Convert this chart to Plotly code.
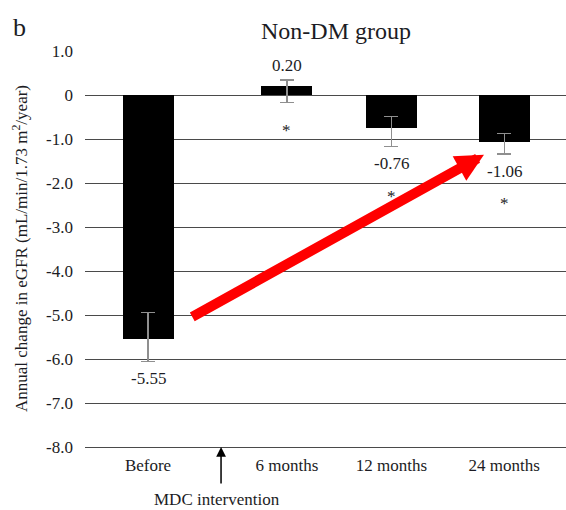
import plotly.graph_objects as go

# Annual eGFR change (mL/min/1.73 m²/year), non-DM group
categories = ["Before", "6 months", "12 months", "24 months"]
values = [-5.55, 0.20, -0.76, -1.06]
err_plus = [0.61, 0.14, 0.27, 0.19]
err_minus = [0.50, 0.37, 0.41, 0.28]
significance = ["", "*", "*", "*"]
y_ticks = [1, 0, -1, -2, -3, -4, -5, -6, -7, -8]
y_tick_labels = ["1.0", "0", "-1.0", "-2.0", "-3.0", "-4.0", "-5.0", "-6.0", "-7.0", "-8.0"]

# horizontal slot of each category on the x axis (layout)
slots = [0.0, 1.17, 2.05, 3.0]
intervention_slot = 0.615

FONT = "Liberation Serif"
TXT = "#1c1c24"

fig = go.Figure()
fig.add_trace(go.Bar(
    x=slots, y=values, width=0.43,
    marker=dict(color="black", line=dict(width=0)),
    error_y=dict(type="data", symmetric=False, array=err_plus, arrayminus=err_minus,
                 color="#8f8f8f", thickness=1.3, width=7),
    showlegend=False, hoverinfo="skip",
))

ann = []
for xs, v, up, dn, sig in zip(slots, values, err_plus, err_minus, significance):
    label = f"{v:.2f}"
    if v >= 0:
        ann.append(dict(x=xs, y=v + up, xref="x", yref="y", text=label, showarrow=False,
                        yanchor="bottom", yshift=3, font=dict(family=FONT, size=17, color=TXT)))
        if sig:
            ann.append(dict(x=xs, y=0, xref="x", yref="y", text=sig, showarrow=False,
                            yanchor="middle", yshift=-35, font=dict(family=FONT, size=17, color=TXT)))
    else:
        ann.append(dict(x=xs, y=v - dn, xref="x", yref="y", text=label, showarrow=False,
                        yanchor="top", yshift=-6, font=dict(family=FONT, size=17, color=TXT)))
        if sig:
            ann.append(dict(x=xs, y=v - dn, xref="x", yref="y", text=sig, showarrow=False,
                            yanchor="middle", yshift=-50, font=dict(family=FONT, size=17, color=TXT)))

# red trend arrow from "Before" toward "24 months"
ann.append(dict(x=2.83, y=-1.36, xref="x", yref="y", ax=0.36, ay=-5.06, axref="x", ayref="y",
                text="", showarrow=True, arrowhead=2, arrowsize=0.56, arrowwidth=10,
                arrowcolor="#ff0000", standoff=0, startstandoff=0))

# intervention marker below the axis
ann.append(dict(x=intervention_slot, y=-8, xref="x", yref="y", ax=0, ay=38,
                text="", showarrow=True, arrowhead=2, arrowsize=1.3, arrowwidth=1.5,
                arrowcolor="black", standoff=0))
ann.append(dict(x=(217 - 85) / 481, y=-52 / 396, xref="paper", yref="paper", text="MDC intervention",
                showarrow=False, xanchor="center", yanchor="middle", borderpad=0,
                font=dict(family=FONT, size=17, color=TXT)))

# panel letter and y-axis title
ann.append(dict(x=-66 / 481, y=1 + 23 / 396, xref="paper", yref="paper", text="b", showarrow=False,
                xanchor="center", yanchor="middle", font=dict(family=FONT, size=26, color=TXT)))
ann.append(dict(x=-65 / 481, y=0.5, xref="paper", yref="paper", textangle=-90,
                xanchor="center", yanchor="middle",
                text="Annual change in eGFR (mL/min/1.73 m<sup>2</sup>/year)", showarrow=False,
                font=dict(family=FONT, size=17, color=TXT)))

fig.update_layout(
    width=566, height=510,
    margin=dict(l=85, r=0, t=51, b=63),
    paper_bgcolor="white", plot_bgcolor="white",
    title=dict(text="Non-DM group", x=336 / 566, xanchor="center", y=1 - 31 / 510,
               yanchor="middle", font=dict(family=FONT, size=24, color=TXT)),
    xaxis=dict(range=[-0.531, 3.521], tickvals=slots, ticktext=categories,
               showgrid=False, zeroline=False, showline=True, linecolor="#4a4a4a", linewidth=1.4,
               ticks="", ticklabelstandoff=2, tickfont=dict(family=FONT, size=17, color=TXT)),
    yaxis=dict(range=[-8, 1], tickvals=y_ticks, ticktext=y_tick_labels,
               showgrid=True, gridcolor="#4a4a4a", gridwidth=1.4, zeroline=False,
               ticks="", ticklabelstandoff=11, tickfont=dict(family=FONT, size=17, color=TXT)),
    annotations=ann,
    bargap=0,
)

fig.write_html("out.html")
